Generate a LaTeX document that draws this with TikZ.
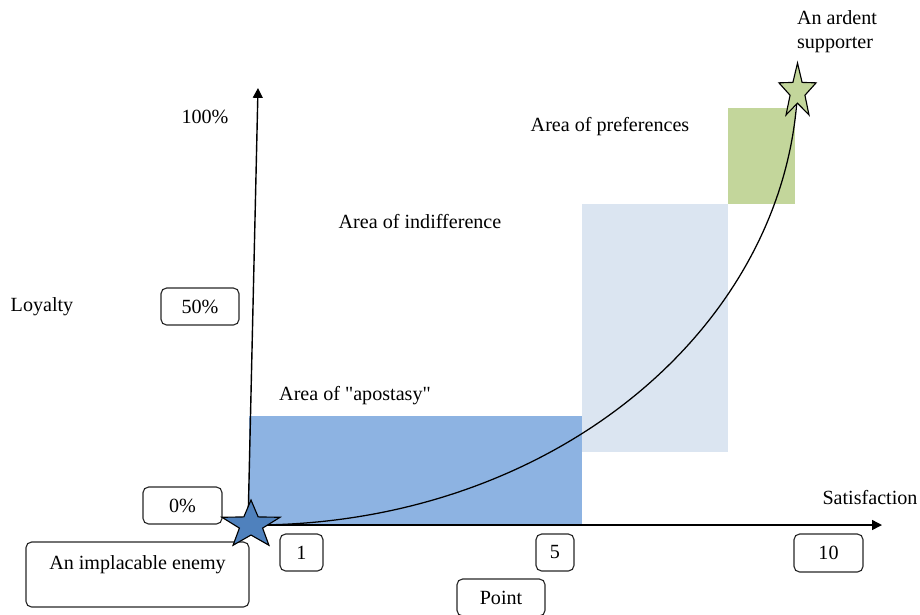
\documentclass[tikz,border=0pt]{standalone}
\usepackage{fontspec}
\setmainfont{Liberation Serif}
\usetikzlibrary{arrows.meta}
\usetikzlibrary{shapes.geometric}
\definecolor{apostasyblue}{HTML}{8DB3E2}
\definecolor{indiffblue}{HTML}{DBE5F1}
\definecolor{prefgreen}{HTML}{C3D69B}
\definecolor{enemyblue}{HTML}{4F81BD}
\tikzset{
	boxstyle/.style={rectangle,rounded corners=4pt,draw=black!85,line width=0.8pt,inner sep=0pt},
	starstyle/.style={star,star points=5,star point ratio=2.5,draw=black,line width=0.8pt,inner sep=0pt,transform shape},
	axisstyle/.style={line width=1pt,-{Triangle[length=7pt,width=7pt]}},
	curvestyle/.style={line width=0.9pt}
}
\begin{document}
\begin{tikzpicture}[x=0.025cm,y=-0.025cm,font=\fontsize{14.3}{17}\selectfont]
	\useasboundingbox (0,0) rectangle (920,614);
	% areas
	\fill[apostasyblue] (249,416) rectangle (582,525);
	\fill[indiffblue] (582,204) rectangle (728,452);
	\fill[prefgreen] (728,108) rectangle (795,204);
	% axes
	\coordinate (origin) at (248,525);
	\coordinate (ytip) at (258,88);
	\coordinate (xtip) at (882,525);
	\draw[axisstyle] (origin)--(ytip);
	\draw[axisstyle] (origin)--(xtip);
	% curve
	\coordinate (enemypt) at (251,525);
	\coordinate (ardentpt) at (797.5,91.7);
	\draw[curvestyle] (enemypt) .. controls (550,526) and (785,330) .. (ardentpt);
	% labels
	\node (hundred) at (205,117) {100\%};
	\node (loyalty) at (42,307) {Loyalty};
	\node (pref) at (610,127) {Area of preferences};
	\node (indiff) at (420,222) {Area of indifference};
	\node (apost) at (355,396) {Area of \textquotedbl apostasy\textquotedbl};
	\node (satis) at (870,498) {Satisfaction};
	\node[align=left] (ardent) at (837,32) {An ardent\\supporter};
	% boxes
	\node[boxstyle,minimum width=1.95cm,minimum height=0.925cm] (fifty) at (200,306.5) {50\%};
	\node[boxstyle,minimum width=1.975cm,minimum height=0.925cm] (zero) at (182.5,505.5) {0\%\hspace{0.3cm}};
	\node[boxstyle,align=center,minimum width=5.575cm,minimum height=1.625cm] (enemy) at (137.5,574.5) {An implacable enemy\hspace{0.2cm}\\\mbox{}};
	\node[boxstyle,minimum width=1.075cm,minimum height=0.925cm] (one) at (301.5,552.5) {1};
	\node[boxstyle,minimum width=0.95cm,minimum height=0.925cm] (five) at (555,552.5) {5};
	\node[boxstyle,minimum width=1.725cm,minimum height=0.95cm] (ten) at (828.5,553) {10};
	\node[boxstyle,minimum width=2.2cm,minimum height=0.925cm] (point) at (501,597.5) {Point\hspace{0.2cm}};
	% stars
	\begin{scope}[shift={(enemypt)},xscale=1.22]
		\node[starstyle,fill=enemyblue,minimum size=1.25cm] (enemystar) at (0,0) {};
	\end{scope}
	\begin{scope}[shift={(ardentpt)},xscale=0.68]
		\node[starstyle,fill=prefgreen,minimum size=1.435cm] (ardentstar) at (0,0) {};
	\end{scope}
\end{tikzpicture}
\end{document}
